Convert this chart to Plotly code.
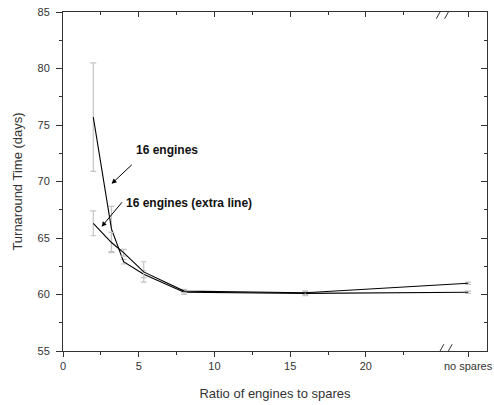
import plotly.graph_objects as go

NO_SPARES = 26.75
x_vals = [2, 3.2, 4, 5.33, 8, 16, NO_SPARES]
y_16 = [75.7, 65.8, 62.9, 61.8, 60.2, 60.1, 60.2]
err_16 = [4.8, 2.0, 0.2, 0.3, 0.2, 0.2, 0.1]
y_extra = [66.3, 64.6, 63.7, 62.0, 60.3, 60.15, 61.0]
err_extra = [1.1, 0.9, 0.3, 0.9, 0.15, 0.15, 0.1]

x_tickvals = [0, 5, 10, 15, 20, NO_SPARES]
x_ticktext = ["0", "5", "10", "15", "20", "no spares"]
x_minor = [2.5, 7.5, 12.5, 17.5, 22.5]
y_tickvals = [55, 60, 65, 70, 75, 80, 85]

FONT = "Liberation Sans, Arial, sans-serif"
AX = "#333333"
ERR = "#c4c4c4"

fig = go.Figure()
for yv, ev in [(y_16, err_16), (y_extra, err_extra)]:
    fig.add_trace(go.Scatter(
        x=x_vals, y=yv, mode="lines",
        line=dict(color="black", width=1.1),
        error_y=dict(type="data", array=ev, visible=True, color=ERR, thickness=1.2, width=3),
        showlegend=False, hoverinfo="skip"))
fig.add_trace(go.Scatter(x=[None], y=[None], xaxis="x2", yaxis="y", showlegend=False, hoverinfo="skip"))
fig.add_trace(go.Scatter(x=[None], y=[None], xaxis="x", yaxis="y2", showlegend=False, hoverinfo="skip"))

common_x = dict(range=[0, 28], tickvals=x_tickvals, showline=True, linecolor=AX, linewidth=1,
                tickcolor=AX, ticklen=5, showgrid=False, zeroline=False, automargin=False,
                minor=dict(tickvals=x_minor, ticklen=3, tickcolor=AX))
common_y = dict(range=[55, 85], tickvals=y_tickvals, showline=True, linecolor=AX, linewidth=1,
                tickcolor=AX, ticklen=6, showgrid=False, zeroline=False, automargin=False,
                minor=dict(dtick=2.5, tick0=55, ticklen=3, tickcolor=AX))

fig.update_layout(
    width=494, height=405,
    margin=dict(l=63, r=7, t=12, b=54),
    plot_bgcolor="white", paper_bgcolor="white",
    font=dict(family=FONT, size=11, color=AX),
    xaxis=dict(**common_x, ticktext=x_ticktext, ticks="outside", mirror=True,
               minor_ticks="outside", ticklabeloverflow="allow",
               title=dict(text="Ratio of engines to spares", font=dict(size=13, color=AX), standoff=17)),
    yaxis=dict(**common_y, ticks="outside", minor_ticks="outside", ticklabelstandoff=4,
               mirror=True, ticklabeloverflow="allow",
               title=dict(text="Turnaround Time (days)", font=dict(size=13, color=AX), standoff=11)),
    xaxis2=dict(**common_x, overlaying="x", side="top", anchor="y", ticks="inside",
                minor_ticks="inside", showticklabels=False),
    yaxis2=dict(**common_y, overlaying="y", side="right", anchor="x", ticks="inside",
                minor_ticks="inside", showticklabels=False),
)

# axis-break marks
for yb in [55, 85]:
    for dx in [-0.35, 0.2]:
        fig.add_shape(type="line", xref="x", yref="y",
                      x0=25.0 + dx, y0=yb - 0.6, x1=25.5 + dx, y1=yb + 0.6,
                      line=dict(color=AX, width=1))

fig.add_annotation(x=3.21, y=69.8, ax=4.64, ay=71.6, axref="x", ayref="y", xref="x", yref="y",
                   text="", showarrow=True, arrowhead=2, arrowsize=1, arrowwidth=1, arrowcolor="black")
fig.add_annotation(x=2.55, y=66.0, ax=3.98, ay=68.3, axref="x", ayref="y", xref="x", yref="y",
                   text="", showarrow=True, arrowhead=2, arrowsize=1, arrowwidth=1, arrowcolor="black")
fig.add_annotation(x=4.72, y=72.8, xref="x", yref="y", text="<b>16 engines</b>", showarrow=False,
                   xanchor="left", font=dict(size=12, color="#111"))
fig.add_annotation(x=4.05, y=68.1, xref="x", yref="y", text="<b>16 engines (extra line)</b>", showarrow=False,
                   xanchor="left", font=dict(size=12, color="#111"))

fig.write_html("out.html", config={"displayModeBar": False},
               post_script="document.body.style.margin='0';document.body.style.overflow='hidden';")
